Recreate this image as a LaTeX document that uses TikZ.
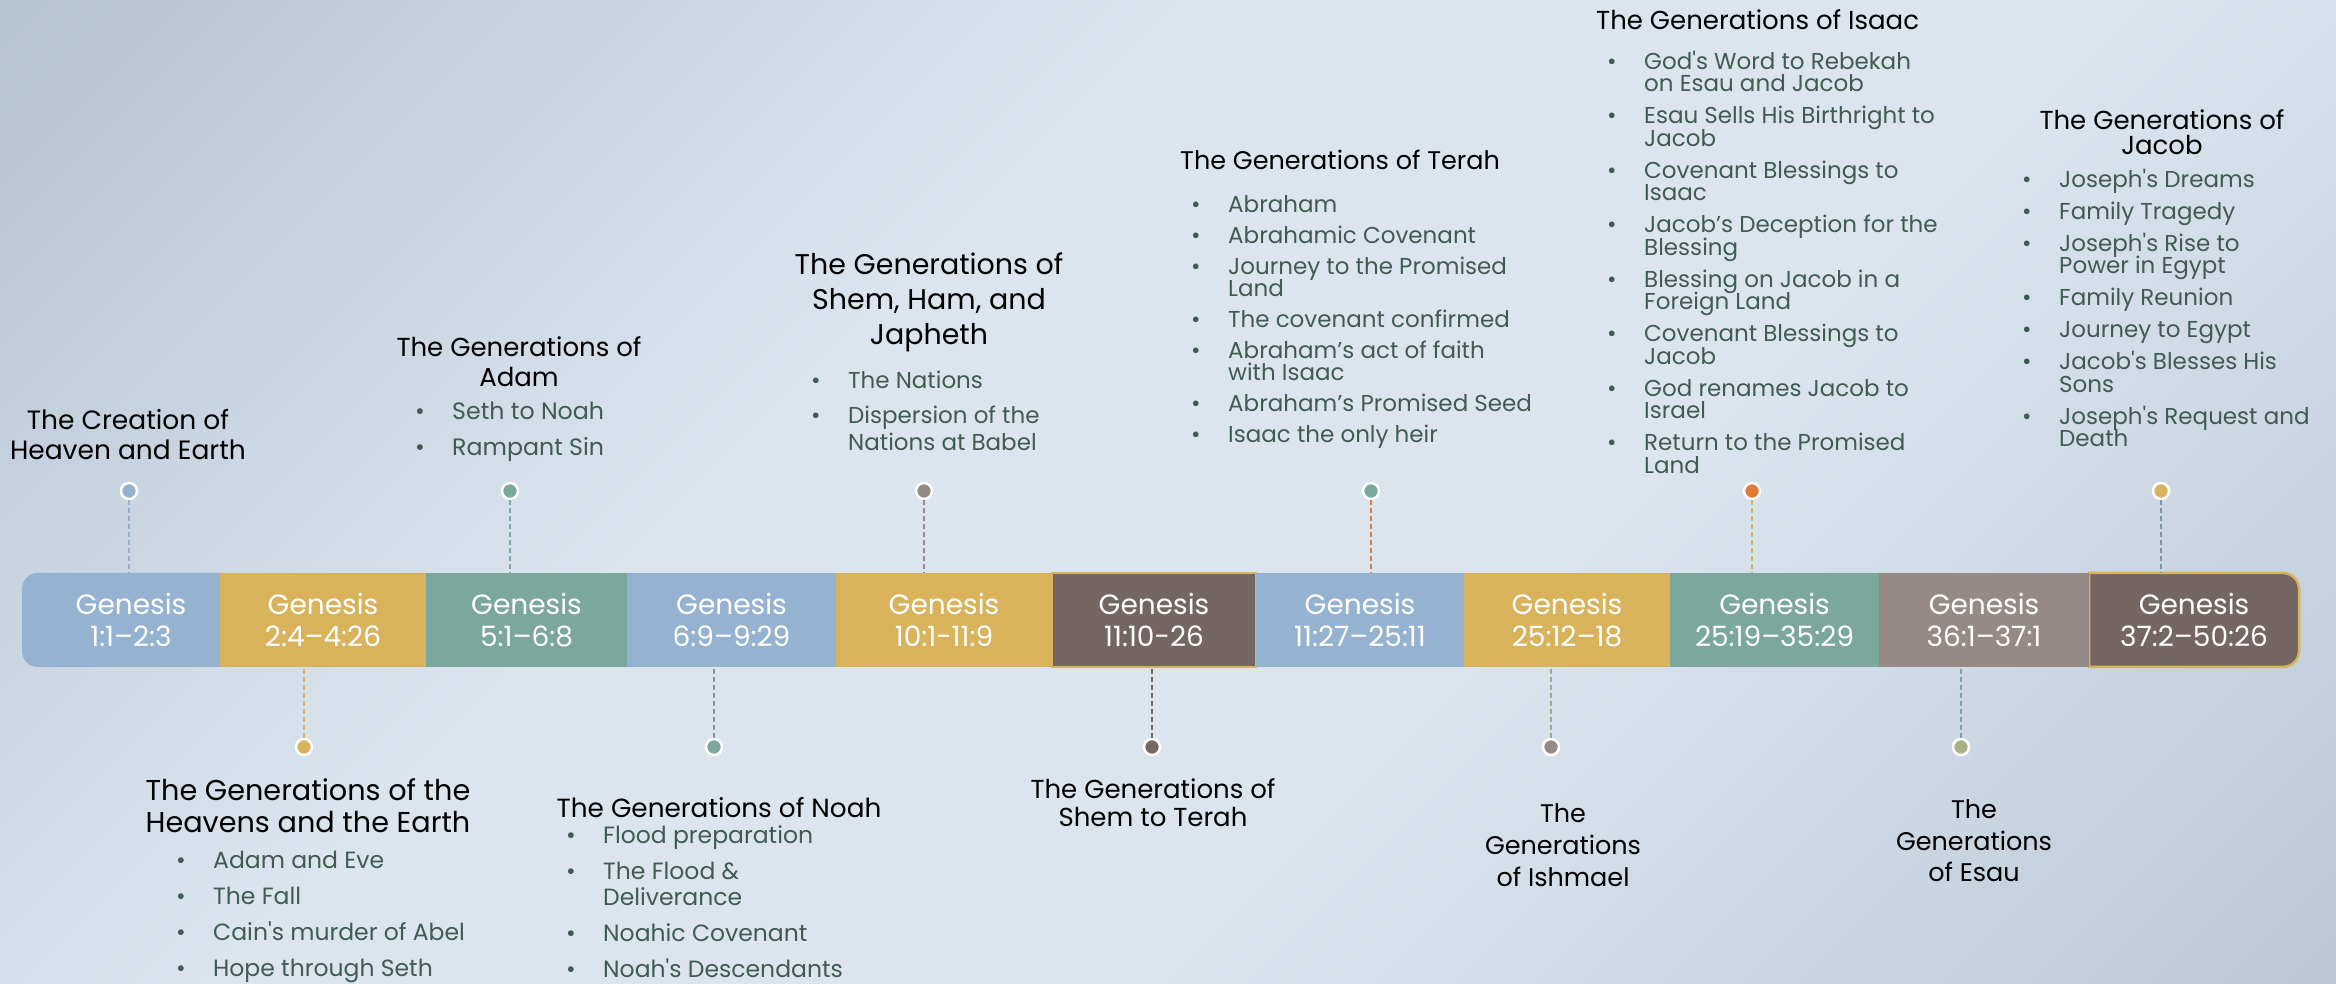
\documentclass[tikz,border=0pt]{standalone}
\usepackage{fontspec}
\setmainfont{Poppins}
\usetikzlibrary{positioning}
\usetikzlibrary{backgrounds}

\definecolor{cblue}{HTML}{95B3D0}
\definecolor{cgold}{HTML}{D9B25C}
\definecolor{cteal}{HTML}{7BA79D}
\definecolor{cdark}{HTML}{736663}
\definecolor{cmauve}{HTML}{968A87}
\definecolor{corange}{HTML}{E07B39}
\definecolor{colive}{HTML}{A9AF87}
\definecolor{cslate}{HTML}{7F97A8}
\definecolor{csage}{HTML}{99A897}
\definecolor{citem}{HTML}{3F5B52}
\definecolor{bgtl}{HTML}{9DAFC2}
\definecolor{bgbr}{HTML}{A7B8C9}
\definecolor{bglight}{HTML}{DCE5EE}

\pgfdeclareverticalshading{bgshade}{100bp}{color(0bp)=(bgbr); color(40bp)=(bglight); color(60bp)=(bglight); color(100bp)=(bgtl)}

\newcommand{\fs}[2]{\fontsize{#1}{#2}\selectfont\lineskiplimit=-20pt\relax}
\newcommand{\bl}{\makebox[37pt][l]{\textbullet}}
\newcommand{\ind}{\hspace*{37pt}}
\newcommand{\aq}{\textquotesingle}

\begin{document}
\begin{tikzpicture}[ x = 1pt, y = 1pt
                   , seg/.style = { rectangle, inner sep = 0pt, outer sep = 0pt
                                  , minimum height = 94pt, align = center
                                  , text = white, font = \fs{28}{32} }
                   , dot/.style = { circle, draw = white, line width = 2.5pt
                                  , minimum size = 16pt, inner sep = 0pt }
                   , link/.style = { dash pattern = on 5pt off 3pt, line width = 1.3pt }
                   , title/.style = { align = center, text = black, inner sep = 0pt }
                   , items/.style = { align = left, text = citem, inner sep = 0pt
                                    , anchor = west }
                   ]

  \useasboundingbox (0,0) rectangle (2336,984);
  \begin{scope}[on background layer]
    \shade[shading = bgshade, shading angle = 45] (0,0) rectangle (2336,984);
  \end{scope}

  %%
  %% Timeline bar
  %%
  \node (gcre)   [seg, minimum width = 178pt, anchor = west] at (42,364) {Genesis\\1:1–2:3};
  \node (gheav)  [seg, fill = cgold, minimum width = 206pt, right = 0pt of gcre] {Genesis\\2:4–4:26};
  \node (gadam)  [seg, fill = cteal, minimum width = 201pt, right = 0pt of gheav] {Genesis\\5:1–6:8};
  \node (gnoah)  [seg, fill = cblue, minimum width = 209pt, right = 0pt of gadam] {Genesis\\6:9–9:29};
  \node (gshem)  [seg, fill = cgold, minimum width = 216pt, right = 0pt of gnoah] {Genesis\\10:1-11:9};
  \node (gsht)   [seg, fill = cdark, draw = cgold, line width = 2.5pt, minimum width = 204pt, right = 0pt of gshem] {Genesis\\11:10-26};
  \node (gterah) [seg, fill = cblue, minimum width = 208pt, right = 0pt of gsht] {Genesis\\11:27–25:11};
  \node (gishm)  [seg, fill = cgold, minimum width = 206pt, right = 0pt of gterah] {Genesis\\25:12–18};
  \node (gisaac) [seg, fill = cteal, minimum width = 209pt, right = 0pt of gishm] {Genesis\\25:19–35:29};
  \node (gesau)  [seg, fill = cmauve, minimum width = 210pt, right = 0pt of gisaac] {Genesis\\36:1–37:1};
  \node (gjacob) [seg, minimum width = 210pt, right = 0pt of gesau] {Genesis\\37:2–50:26};

  % rounded ends of the bar
  \begin{scope}[on background layer]
    \fill[cblue] (gcre.north east) -- ([xshift = -4pt]gcre.north west)
      arc[start angle = 90, end angle = 180, radius = 16pt]
      -- ([xshift = -20pt, yshift = 16pt]gcre.south west)
      arc[start angle = 180, end angle = 270, radius = 16pt]
      -- (gcre.south east) -- cycle;
    \filldraw[fill = cdark, draw = cgold, line width = 2.5pt]
      (gjacob.north west) -- ([xshift = -16pt]gjacob.north east)
      arc[start angle = 90, end angle = 0, radius = 16pt]
      -- ([yshift = 16pt]gjacob.south east)
      arc[start angle = 0, end angle = -90, radius = 16pt]
      -- (gjacob.south west) -- cycle;
  \end{scope}

  %%
  %% Dots
  %%
  \node (dcre)   [dot, fill = cblue]   at (129,493) {};
  \node (dadam)  [dot, fill = cteal]   at (510,493) {};
  \node (dshem)  [dot, fill = cmauve]  at (924,493) {};
  \node (dterah) [dot, fill = cteal]   at (1371,493) {};
  \node (disaac) [dot, fill = corange] at (1752,493) {};
  \node (djacob) [dot, fill = cgold]   at (2161,493) {};
  \node (dheav)  [dot, fill = cgold]   at (304,237) {};
  \node (dnoah)  [dot, fill = cteal]   at (714,237) {};
  \node (dsht)   [dot, fill = cdark]   at (1152,237) {};
  \node (dishm)  [dot, fill = cmauve]  at (1551,237) {};
  \node (desau)  [dot, fill = colive]  at (1961,237) {};

  % Upper links.
  \draw[link, cblue]   (dcre)   -- (dcre |- gcre.north);
  \draw[link, cteal]   (dadam)  -- (dadam |- gadam.north);
  \draw[link, cmauve]  (dshem)  -- (dshem |- gshem.north);
  \draw[link, corange] (dterah) -- (dterah |- gterah.north);
  \draw[link, cgold]   (disaac) -- (disaac |- gisaac.north);
  \draw[link, cslate]  (djacob) -- (djacob |- gjacob.north);
  % Lower links.
  \draw[link, cgold]   (dheav) -- (dheav |- gheav.south);
  \draw[link, cslate]  (dnoah) -- (dnoah |- gnoah.south);
  \draw[link, cdark]   (dsht)  -- (dsht |- gsht.south);
  \draw[link, csage]   (dishm) -- (dishm |- gishm.south);
  \draw[link, cteal]   (desau) -- (desau |- gesau.south);

  %%
  %% Titles
  %%
  \node (tcre)   [title, font = \fs{26.5}{30}] at (128,549) {The Creation of\\Heaven and Earth};
  \node (tadam)  [title, font = \fs{26}{30}] at (519,622) {The Generations of\\Adam};
  \node (tshem)  [title, font = \fs{28.5}{35}] at (929,682) {The Generations of\\Shem, Ham, and\\Japheth};
  \node (tterah) [title, font = \fs{25.5}{30}, anchor = west] at (1180,824) {The Generations of Terah};
  \node (tisaac) [title, font = \fs{26}{30}, anchor = west] at (1596,964) {The Generations of Isaac};
  \node (tjacob) [title, font = \fs{26}{25}] at (2162,852) {The Generations of\\Jacob};
  \node (theav)  [title, font = \fs{28.7}{32}] at (308,178) {The Generations of the\\Heavens and the Earth};
  \node (tnoah)  [title, font = \fs{26.3}{30}] at (719,176) {The Generations of Noah};
  \node (tsht)   [title, font = \fs{26}{28}] at (1153,181) {The Generations of\\Shem to Terah};
  \node (tishm)  [title, font = \fs{25.5}{32}] at (1563,139) {The\\Generations\\of Ishmael};
  \node (tesau)  [title, font = \fs{25.5}{31.5}] at (1974,143) {The\\Generations\\of Esau};

  %%
  %% Bullet lists
  %%
  \node (ladam) [items, font = \fs{23.7}{27}] at (415,552)
    {\bl Seth to Noah\\[9pt]\bl Rampant Sin};
  \node (lshem) [items, font = \fs{23}{27}] at (811,573)
    {\bl The Nations\\[8pt]\bl Dispersion of the\\\ind Nations at Babel};
  \node (lterah) [items, font = \fs{23}{22}] at (1191,662.5)
    {\bl Abraham\\[9pt]\bl Abrahamic Covenant\\[9pt]\bl Journey to the Promised\\\ind Land\\[9pt]%
     \bl The covenant confirmed\\[9pt]\bl Abraham’s act of faith\\\ind with Isaac\\[9pt]%
     \bl Abraham’s Promised Seed\\[9pt]\bl Isaac the only heir};
  \node (lisaac) [items, font = \fs{23}{22.5}] at (1607,722)
    {\bl God\aq s Word to Rebekah\\\ind on Esau and Jacob\\[9.5pt]%
     \bl Esau Sells His Birthright to\\\ind Jacob\\[9.5pt]%
     \bl Covenant Blessings to\\\ind Isaac\\[9.5pt]%
     \bl Jacob’s Deception for the\\\ind Blessing\\[9.5pt]%
     \bl Blessing on Jacob in a\\\ind Foreign Land\\[9.5pt]%
     \bl Covenant Blessings to\\\ind Jacob\\[9.5pt]%
     \bl God renames Jacob to\\\ind Israel\\[9.5pt]%
     \bl Return to the Promised\\\ind Land};
  \node (ljacob) [items, font = \fs{23}{22.5}] at (2022,676)
    {\bl Joseph\aq s Dreams\\[9.5pt]\bl Family Tragedy\\[9.5pt]%
     \bl Joseph\aq s Rise to\\\ind Power in Egypt\\[9.5pt]\bl Family Reunion\\[9.5pt]%
     \bl Journey to Egypt\\[9.5pt]\bl Jacob\aq s Blesses His\\\ind Sons\\[9.5pt]%
     \bl Joseph\aq s Request and\\\ind Death};
  \node (lheav) [items, font = \fs{23.5}{27}] at (176,67.5)
    {\bl Adam and Eve\\[9pt]\bl The Fall\\[9pt]\bl Cain\aq s murder of Abel\\[9pt]\bl Hope through Seth};
  \node (lnoah) [items, font = \fs{23.5}{26}] at (566,82.5)
    {\bl Flood preparation\\[10pt]\bl The Flood \&\\\ind Deliverance\\[10pt]%
     \bl Noahic Covenant\\[10pt]\bl Noah\aq s Descendants};
\end{tikzpicture}
\end{document}
